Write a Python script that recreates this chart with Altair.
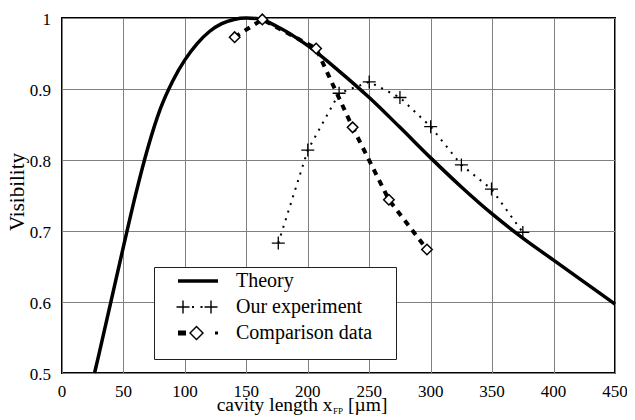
import altair as alt
import pandas as pd

FONT = "Liberation Serif, Tinos, Times New Roman, DejaVu Serif, serif"

series_names = ["Theory", "Our experiment", "Comparison data"]

theory_x = [26.5, 30, 40, 50, 60, 70, 80, 90, 100, 110, 120, 130, 140, 150, 160,
            175, 200, 225, 250, 275, 300, 325, 350, 375, 400, 425, 450]
theory_y = [0.5, 0.526, 0.602, 0.678, 0.752, 0.818, 0.872, 0.911, 0.941, 0.964, 0.981,
            0.992, 0.998, 1.0, 0.999, 0.988, 0.961, 0.926, 0.888, 0.846, 0.803, 0.762,
            0.724, 0.690, 0.659, 0.628, 0.597]

exp_x = [176, 200, 225.5, 250, 275, 300, 325, 349.5, 375]
exp_y = [0.683, 0.814, 0.894, 0.910, 0.888, 0.847, 0.793, 0.759, 0.698]

cmp_x = [140.5, 163, 206.8, 236.5, 266, 297]
cmp_y = [0.973, 0.998, 0.957, 0.846, 0.744, 0.674]

x_ticks = [0, 50, 100, 150, 200, 250, 300, 350, 400, 450]
x_labels = ["0", "50", "100", "150", "200", "250", "300", "350", "400", "450"]
y_ticks = [0.5, 0.6, 0.7, 0.8, 0.9, 1.0]
y_labels = ["0.5", "0.6", "0.7", "0.8", "0.9", "1"]

theory_df = pd.DataFrame({"x": theory_x, "y": theory_y})
exp_df = pd.DataFrame({"x": exp_x, "y": exp_y})
cmp_df = pd.DataFrame({"x": cmp_x, "y": cmp_y})
legend_df = pd.DataFrame({"series": series_names})
xlab_df = pd.DataFrame({"x": x_ticks, "t": x_labels})
ylab_df = pd.DataFrame({"y": y_ticks, "t": y_labels})

xs = alt.Scale(domain=[0, 450], nice=False)
ys = alt.Scale(domain=[0.5, 1.0], nice=False, zero=False)
X = alt.X("x:Q", scale=xs,
          axis=alt.Axis(values=x_ticks, title=None, labels=False, ticks=False, domain=False,
                        grid=True, gridColor="#808080", gridWidth=1))
Y = alt.Y("y:Q", scale=ys,
          axis=alt.Axis(values=y_ticks, title=None, labels=False, ticks=False, domain=False,
                        grid=True, gridColor="#808080", gridWidth=1))


def rect(x0, y0, x1, y1):
    return f"M{x0},{y0}L{x1},{y0}L{x1},{y1}L{x0},{y1}Z"


def plus(cx, a=0.65, t=0.07):
    return rect(cx - a, -t, cx + a, t) + rect(cx - t, -a, cx + t, a)


def diamond_ring(cx, r_out, r_in):
    outer = f"M{cx},{-r_out}L{cx + r_out},0L{cx},{r_out}L{cx - r_out},0Z"
    inner = f"M{cx},{-r_in}L{cx - r_in},0L{cx},{r_in}L{cx + r_in},0Z"
    return outer + inner


p_th = rect(-2, -0.18, 2, 0.18)
p_exp = plus(-1.5) + plus(1.3) + rect(-0.6, -0.1, -0.4, 0.1) + rect(0.25, -0.1, 0.45, 0.1)
p_cmp = rect(-2.0, -0.25, -1.2, 0.25) + diamond_ring(-0.15, 0.75, 0.55) + rect(1.7, -0.15, 2.0, 0.15)

legend = alt.Legend(
    title="MMMMMMMMMMMMMMMMMMMMM", titleOrient="bottom", titleFontSize=11.8, titlePadding=0,
    titleFont=FONT, titleOpacity=0, titleLimit=1000,
    orient="none", legendX=92, legendY=249, padding=4, rowPadding=6,
    strokeColor="#202020", fillColor="white", labelFont=FONT, labelFontSize=20,
    labelColor="black", symbolSize=400, symbolOffset=30, labelOffset=28, labelLimit=0,
    symbolOpacity=1, symbolFillColor="black", symbolStrokeColor="black", symbolStrokeWidth=0,
)

theory = alt.Chart(theory_df).mark_line(strokeWidth=3.5, color="black",
                                        interpolate="monotone").encode(x=X, y=Y)
cmp_line = alt.Chart(cmp_df).mark_line(strokeWidth=4, color="black",
                                       strokeDash=[6, 6]).encode(x=X, y=Y)
exp_line = alt.Chart(exp_df).mark_line(strokeWidth=2, color="black",
                                       strokeDash=[2, 6]).encode(x=X, y=Y)
exp_pts = alt.Chart(exp_df).mark_point(shape="M-1,0L1,0M0,-1L0,1", size=169, filled=False,
                                       stroke="black", strokeWidth=1.3, opacity=1).encode(x=X, y=Y)
cmp_pts = alt.Chart(cmp_df).mark_point(shape="diamond", size=110, filled=True, fill="white",
                                       stroke="black", strokeWidth=1.5, opacity=1).encode(x=X, y=Y)
legend_layer = alt.Chart(legend_df).mark_point(filled=True, color="black", fill="black",
                                               opacity=0).encode(
    shape=alt.Shape("series:N", scale=alt.Scale(domain=series_names, range=[p_th, p_exp, p_cmp]),
                    legend=legend))

xlab = alt.Chart(xlab_df).mark_text(font=FONT, fontSize=17, align="center", baseline="alphabetic",
                                    color="black").encode(
    x=alt.X("x:Q", scale=xs), y=alt.value(378.5), text="t:N")
ylab = alt.Chart(ylab_df).mark_text(font=FONT, fontSize=17, align="right", baseline="alphabetic",
                                    dy=6.5, color="black").encode(
    x=alt.value(-11), y=alt.Y("y:Q", scale=ys), text="t:N")

ytitle_df = pd.DataFrame({"t": ["Visibility"]})
ytitle = alt.Chart(ytitle_df).mark_text(font=FONT, fontSize=21, align="center",
                                        baseline="alphabetic", angle=270, color="black").encode(
    x=alt.value(-38), y=alt.value(174), text="t:N")

t1 = pd.DataFrame({"t": ["cavity length x"]})
t2 = pd.DataFrame({"t": ["FP"]})
t3 = pd.DataFrame({"t": ["[\u00b5m]"]})
title1 = alt.Chart(t1).mark_text(font=FONT, fontSize=19.5, align="left", baseline="alphabetic",
                                 color="black").encode(x=alt.value(154.7), y=alt.value(393), text="t:N")
title2 = alt.Chart(t2).mark_text(font=FONT, fontSize=9, align="left", baseline="alphabetic",
                                 color="black").encode(x=alt.value(271), y=alt.value(396), text="t:N")
title3 = alt.Chart(t3).mark_text(font=FONT, fontSize=19.5, align="left", baseline="alphabetic",
                                 color="black").encode(x=alt.value(286), y=alt.value(393), text="t:N")

chart = alt.layer(theory, cmp_line, exp_line, exp_pts, cmp_pts, legend_layer,
                  xlab, ylab, ytitle, title1, title2, title3).properties(
    width=553, height=355, autosize="none",
    padding={"left": 54, "top": 10, "right": 12, "bottom": 42},
    background="white",
).configure(font=FONT).configure_view(stroke="black", strokeWidth=2)

chart.save("out.html", embed_options={"renderer": "svg", "actions": False})
